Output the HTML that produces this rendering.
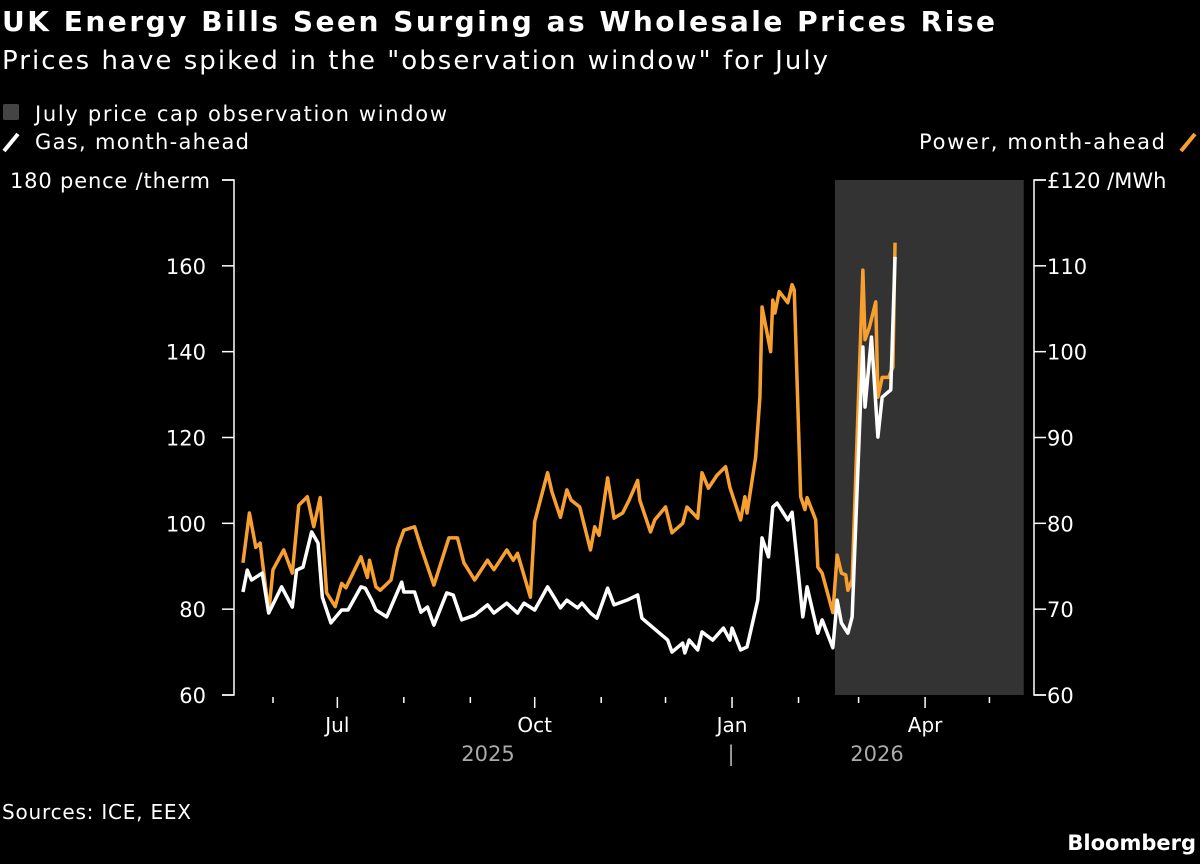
<!DOCTYPE html>
<html><head><meta charset="utf-8"><style>
body{margin:0;background:#000;width:1200px;height:859px;overflow:hidden;font-family:"Liberation Sans","DejaVu Sans",sans-serif}
svg text{font-family:"DejaVu Sans","Liberation Sans",sans-serif}
</style></head><body>
<svg id="c" width="1200" height="859" xmlns="http://www.w3.org/2000/svg">
<text x="2" y="31" fill="#fff" font-size="28" font-weight="bold" textLength="993" lengthAdjust="spacing">UK Energy Bills Seen Surging as Wholesale Prices Rise</text>
<text x="2" y="69" fill="#fff" font-size="26" textLength="826" lengthAdjust="spacing">Prices have spiked in the "observation window" for July</text>
<g>
<rect x="3" y="104" width="16" height="16" rx="2" fill="#444"/>
<text x="35" y="121" fill="#fff" font-size="21" textLength="412" lengthAdjust="spacing">July price cap observation window</text>
<line x1="4" y1="151" x2="18" y2="134" stroke="#fff" stroke-width="4"/>
<text x="35" y="149" fill="#fff" font-size="21" textLength="214" lengthAdjust="spacing">Gas, month-ahead</text>
<text x="919" y="149" fill="#fff" font-size="21" textLength="246" lengthAdjust="spacing">Power, month-ahead</text>
<line x1="1181" y1="151" x2="1195" y2="134" stroke="#f7a030" stroke-width="4"/>
</g>
<g id="plot"></g>
<text x="2" y="819" fill="#fff" font-size="20" textLength="189" lengthAdjust="spacing">Sources: ICE, EEX</text>
<text x="1196" y="850" fill="#fff" font-size="21" font-weight="bold" text-anchor="end">Bloomberg</text>
</svg>
<script>
// days since 2025-06-01
const gasDays=[-14,-12,-10,-5,-2,4,9,11,14,18,21,23,27,32,35,41,43,46,48,53,60,61,66,69,72,75,81,84,88,94,100,103,109,114,117,122,128,131,134,137,142,144,148,151,156,159,165,170,172,184,186,191,192,194,198,200,205,210,213,214,218,221,226,228,231,233,235,240,242,247,249,254,256,261,263,265,268,270,274,275,276,279,282,284,288,290];
const gasValues=[84.0,89.1,86.8,88.4,79.1,85.2,80.5,89.1,89.8,98.0,95.4,82.8,76.8,79.8,79.8,85.2,84.9,82.1,79.8,78.2,86.3,84.0,84.0,79.3,80.5,76.3,83.8,83.3,77.5,78.6,81.0,79.1,81.4,79.1,81.4,79.8,85.2,82.8,80.3,82.1,80.3,81.4,79.1,77.9,84.9,81.0,82.1,83.3,77.9,72.8,70.0,72.1,69.8,72.8,70.5,74.7,72.8,75.6,72.8,75.6,70.5,71.2,82.1,96.6,92.2,103.8,104.7,100.8,102.6,78.2,85.2,74.4,77.5,71.0,82.1,76.8,74.4,78.2,129.4,141.1,127.1,143.4,120.1,129.4,131.1,162.1];
const powerDays=[-14,-11,-8,-6,-2,0,5,9,12,16,19,22,25,29,32,34,41,44,45,48,50,55,58,61,66,69,75,82,86,89,94,100,103,109,112,114,120,122,128,130,134,137,139,143,148,150,152,156,159,163,166,170,171,176,178,183,186,191,193,198,200,203,207,211,213,218,220,221,225,227,228,232,233,234,236,240,242,243,246,248,249,253,254,256,261,263,265,267,268,270,275,276,278,281,282,284,287,289,290];
const powerValues=[75.4,81.2,77.2,77.7,69.6,74.6,76.9,74.2,82.1,83.1,79.6,83.0,71.9,70.3,73.0,72.5,76.1,73.7,75.7,72.6,72.2,73.4,77.1,79.2,79.6,77.2,72.8,78.3,78.3,75.4,73.4,75.7,74.6,76.9,75.7,76.5,71.4,80.2,85.9,83.7,80.7,83.9,82.7,81.9,76.9,79.6,78.6,85.3,80.6,81.2,82.7,85.0,82.7,79.0,80.4,81.9,78.9,80.0,81.9,80.6,85.9,84.1,85.6,86.6,84.2,80.4,83.1,81.2,87.7,94.7,105.2,100.0,106.0,104.5,107.0,105.7,107.8,107.2,83.1,81.6,83.0,80.4,74.9,74.2,69.6,76.3,74.2,74.0,72.2,73.4,109.5,101.4,102.8,105.8,94.7,97.0,97.0,98.2,112.7];
const leftTicks=[60,80,100,120,140,160,180];
const rightTicks=[60,70,80,90,100,110,120];
const monthDays=[0,30,61,92,122,153,183,214,245,273,304,334];
const monthLabels=["","Jul","","","Oct","","","Jan","","","Apr",""];
const windowDays=[262,350];

const NS="http://www.w3.org/2000/svg";
const plot=document.getElementById('plot');
const pTop=180,pBot=695,L=234,R=1034;
const x=d=>273+d*2.145;
const yL=v=>pBot-(v-60)/120*(pBot-pTop);
const yR=v=>pBot-(v-60)/60*(pBot-pTop);
function mk(tag,a,parent){const e=document.createElementNS(NS,tag);for(const k in a)e.setAttribute(k,a[k]);(parent||plot).appendChild(e);return e;}

const win=mk('rect',{x:x(windowDays[0]),y:pTop,width:x(windowDays[1])-x(windowDays[0]),height:pBot-pTop,fill:'#333'});



const la=mk('path',{d:`M${L-12},${pTop}H${L}V${pBot}H${L-12}`,stroke:'#fff','stroke-width':1.5,fill:'none'});


const ra=mk('path',{d:`M${R+12},${pTop}H${R}V${pBot}H${R+12}`,stroke:'#fff','stroke-width':1.5,fill:'none'});



leftTicks.forEach((v,i)=>{
  const tk=mk('line',{x1:L-12,x2:L,y1:yL(v),y2:yL(v),stroke:'#fff','stroke-width':1.5});
  
  
  const a={x:i==6?10:206,y:yL(v)+8,fill:'#fff','font-size':21,'text-anchor':i==6?'start':'end'};
  if(i==6){a.textLength=200;a.lengthAdjust='spacing';}
  const t=mk('text',a);
  t.textContent=i==6?v+' pence /therm':v;
  
  
});
rightTicks.forEach((v,i)=>{
  const tk=mk('line',{x1:R,x2:R+12,y1:yR(v),y2:yR(v),stroke:'#fff','stroke-width':1.5});
  
  
  const t=mk('text',{x:1047,y:yR(v)+8,fill:'#fff','font-size':21});
  t.textContent=i==6?'£'+v+' /MWh':v;
  
  
});
monthDays.forEach((d,i)=>{
  const major=monthLabels[i]!=='';
  const tk=mk('line',{x1:x(d),x2:x(d),y1:697,y2:major?708:703,stroke:'#fff','stroke-width':1.5});
  
  
  if(major){
    const t=mk('text',{x:x(d),y:732,fill:'#fff','font-size':20,'text-anchor':'middle'});
    t.textContent=monthLabels[i];
    
    
  }
});
[["2025",488],["|",731],["2026",877]].forEach(([s,px])=>{
  const t=mk('text',{x:px,y:761,fill:'#aaa','font-size':21,'text-anchor':'middle'});
  t.textContent=s;
  
  
});

const pp=mk('polyline',{points:powerDays.map((d,i)=>x(d)+','+yR(powerValues[i])).join(' '),fill:'none',stroke:'#f7a030','stroke-width':3.5,'stroke-linejoin':'round'});


const gp=mk('polyline',{points:gasDays.map((d,i)=>x(d)+','+yL(gasValues[i])).join(' '),fill:'none',stroke:'#fff','stroke-width':3.5,'stroke-linejoin':'round'});


</script>
</body></html>
